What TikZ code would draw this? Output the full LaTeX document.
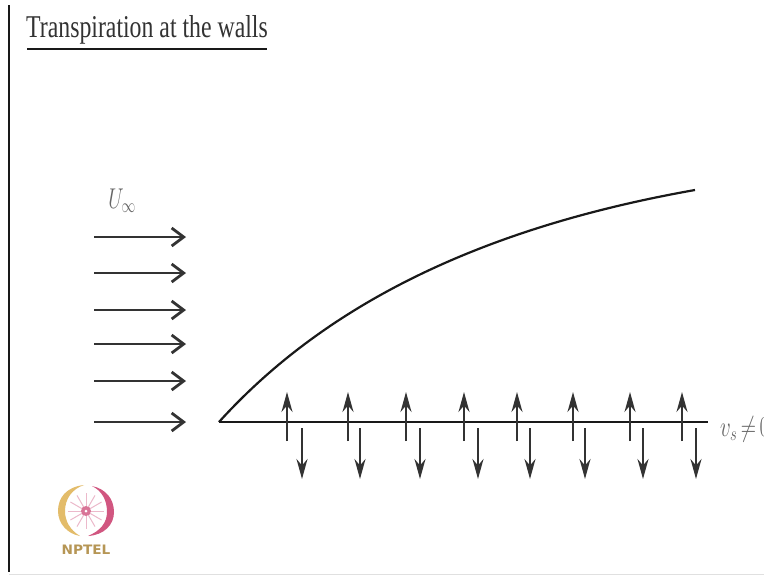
\documentclass[tikz,border=0pt]{standalone}
\usepackage{amsmath,amssymb}
\usepackage{fontspec}
\setmainfont{Liberation Serif}
\newfontfamily\logofont{DejaVu Sans}
\usepackage{tikz}
\definecolor{logogold}{HTML}{E3BC6A}
\definecolor{logored}{HTML}{C9386A}
\usetikzlibrary{arrows.meta}
\tikzset{
	flowarrow/.style={->, line width=2.8pt, black!80},
	bleedarrow/.style={-{Stealth[length=20pt, width=11pt]}, line width=2pt, black!80},
}
\begin{document}
\begin{tikzpicture}[>={Straight Barb[length=12pt, width=18pt]}, line join=round, x=1pt, y=-1pt]
	\useasboundingbox (0, 0) rectangle (764, 576);
	\fill[white] (0, 0) rectangle (764, 576);

	% page edges
	\draw[line width=2.2pt, black!90] (9, 5) -- (9, 572);
	\draw[line width=1pt, black!12] (9, 574) -- (764, 574);

	% heading
	\node[anchor=base west, inner sep=0pt, font=\fontsize{26}{26}\selectfont, black!80, xscale=0.915, yscale=1.22] (title) at (26, 37) {Transpiration at the walls};
	\draw[line width=2.6pt, black!90] (27, 49) -- (267, 49);

	% free stream
	\node[font=\fontsize{26}{26}\selectfont, black!60, xscale=0.8, yscale=1.15] (uinf) at (122, 201) {$U_{\infty}$};
	\foreach \y in {237, 273, 310, 344, 381, 422} {
		\draw[flowarrow] (94, \y) -- (186, \y);
	}

	% wall and layer edge
	\draw[line width=2.6pt, black!90] (219, 422) -- (708, 422);
	\draw[line width=2.2pt, black!90] (219, 422) .. controls (325, 305) and (480, 228) .. (695, 190);
	\node[anchor=base west, inner sep=0pt, font=\fontsize{24}{24}\selectfont, black!60, xscale=0.85, yscale=1.15] (vs) at (720, 436) {$v_s\,{\neq}\,0$};

	% suction and blowing
	\foreach \x in {287, 348, 406, 464, 517, 573, 630, 682} {
		\draw[bleedarrow] (\x, 441) -- (\x, 392);
	}
	\foreach \x in {302, 360, 420, 478, 530, 585, 643, 696} {
		\draw[bleedarrow] (\x, 428) -- (\x, 479);
	}

	% logo
	\fill[logogold] (84, 485) .. controls (66, 487) and (58, 498) .. (58, 511) .. controls (58, 524) and (68, 534) .. (80, 536) .. controls (70, 530) and (65, 521) .. (65, 511) .. controls (65, 499) and (72, 489) .. (84, 485) -- cycle;
	\fill[logored!85] (92, 486) .. controls (106, 489) and (114, 499) .. (114, 512) .. controls (114, 525) and (104, 535) .. (88, 536) .. controls (100, 531) and (107, 523) .. (107, 512) .. controls (107, 500) and (102, 491) .. (92, 486) -- cycle;
	\foreach \a in {0, 30, ..., 330} {
		\draw[line width=1pt, logored!35] (86, 511) -- ++(\a:18);
	}
	\fill[logored!70] (86, 511) circle (5);
	\fill[white] (86, 511) circle (1.5);
	\node[font=\logofont\bfseries\fontsize{13}{13}\selectfont, logogold!80!black, xscale=1.05, inner sep=0pt] (nptel) at (86, 550) {NPTEL};
\end{tikzpicture}
\end{document}
